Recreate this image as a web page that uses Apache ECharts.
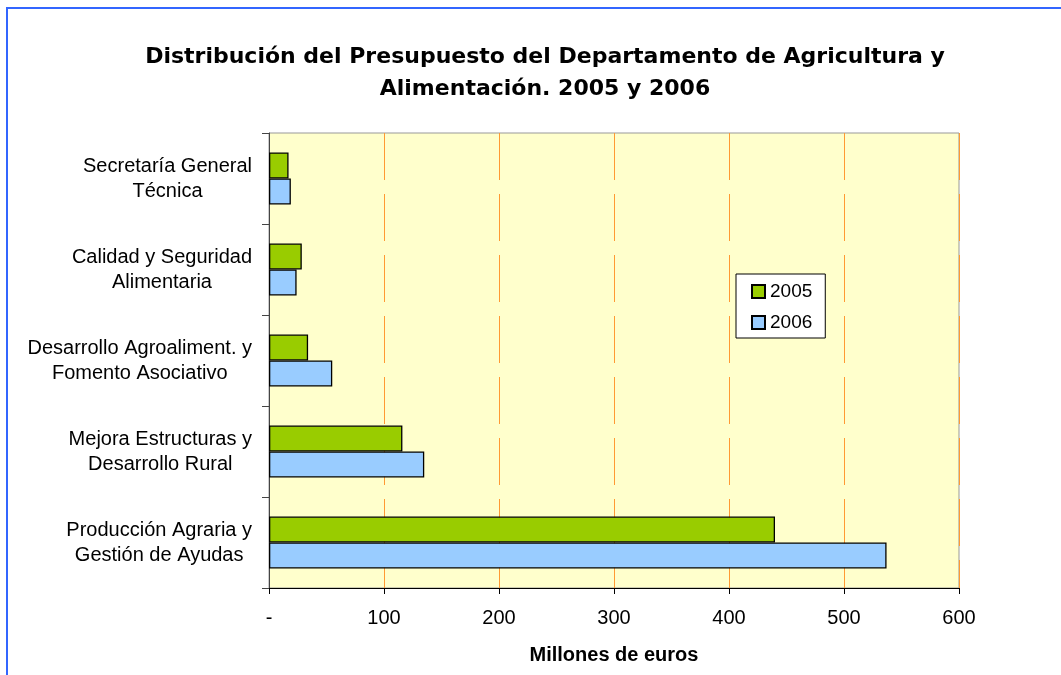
<!DOCTYPE html>
<html>
<head>
<meta charset="utf-8">
<script src="https://cdn.jsdelivr.net/npm/echarts@6/dist/echarts.min.js"></script>
<style>html,body{margin:0;padding:0;background:#fff;}#c{width:1061px;height:675px;}</style>
</head>
<body>
<div id="c"></div>
<script>
var categories = [
  'Producción Agraria y\nGestión de Ayudas',
  'Mejora Estructuras y\nDesarrollo Rural',
  'Desarrollo Agroaliment. y\nFomento Asociativo',
  'Calidad y Seguridad\nAlimentaria',
  'Secretaría General\nTécnica'
];
var values2005 = [440, 116, 34, 28.5, 17];
var values2006 = [537, 135, 55, 24, 19];
var xTickLabels = ['-', '100', '200', '300', '400', '500', '600'];

var chart = echarts.init(document.getElementById('c'));
var font = 'Arial, "Liberation Sans", sans-serif';
chart.setOption({
  animation: false,
  backgroundColor: '#ffffff',
  title: {
    text: 'Distribución del Presupuesto del Departamento de Agricultura y\nAlimentación. 2005 y 2006',
    left: 540, top: 36, textAlign: 'center',
    textStyle: { fontFamily: '"DejaVu Sans", Arial, sans-serif', fontSize: 22, fontWeight: 'bold', color: '#000', lineHeight: 32 }
  },
  graphic: [{
    type: 'rect', silent: true, z: 100,
    shape: { x: 7, y: 8, width: 1100, height: 700 },
    style: { fill: null, stroke: '#3366FF', lineWidth: 2 }
  }],
  legend: {
    orient: 'vertical', left: 736, top: 274,
    data: ['2005', '2006'],
    backgroundColor: '#ffffff', borderColor: '#000', borderWidth: 1,
    padding: [8, 13, 6, 15], itemGap: 12,
    itemWidth: 13, itemHeight: 13, icon: 'rect',
    textStyle: { fontFamily: font, fontSize: 19, color: '#000' }
  },
  grid: {
    left: 269, top: 133, right: 102, bottom: 87,
    outerBoundsMode: 'none', containLabel: false,
    show: true, backgroundColor: '#FFFFCC', borderColor: '#999', borderWidth: 1
  },
  xAxis: {
    type: 'value', min: 0, max: 600, interval: 100,
    name: 'Millones de euros', nameLocation: 'middle', nameGap: 57,
    nameTextStyle: { fontFamily: font, fontSize: 20, fontWeight: 'bold', color: '#000' },
    axisLine: { show: true, lineStyle: { color: '#000', width: 1 } },
    axisTick: { show: true, length: 6, lineStyle: { color: '#000' } },
    axisLabel: {
      margin: 20, fontFamily: font, fontSize: 20, color: '#000',
      formatter: function (v) { return xTickLabels[Math.round(v / 100)]; }
    },
    splitLine: { show: true, lineStyle: { color: '#FF9933', type: [47, 14], width: 1 } }
  },
  yAxis: {
    type: 'category', data: categories,
    axisLine: { show: true, lineStyle: { color: '#444', width: 1 } },
    axisTick: { show: true, length: 7, lineStyle: { color: '#444' } },
    axisLabel: {
      margin: 17, align: 'right',
      formatter: function (v) {
        return v.split('\n').map(function (s) { return '{a|' + s + '}'; }).join('\n');
      },
      rich: { a: { fontFamily: font, fontSize: 20, color: '#000', lineHeight: 25, align: 'center' } }
    },
    splitLine: { show: false }
  },
  series: [
    {
      name: '2005', type: 'bar', data: values2005, barWidth: 26, barGap: '0%',
      itemStyle: { color: '#99CC00', borderColor: '#000', borderWidth: 1.3 }
    },
    {
      name: '2006', type: 'bar', data: values2006, barWidth: 26, barGap: '0%',
      itemStyle: { color: '#99CCFF', borderColor: '#000', borderWidth: 1.3 }
    }
  ]
});
</script>
</body>
</html>
